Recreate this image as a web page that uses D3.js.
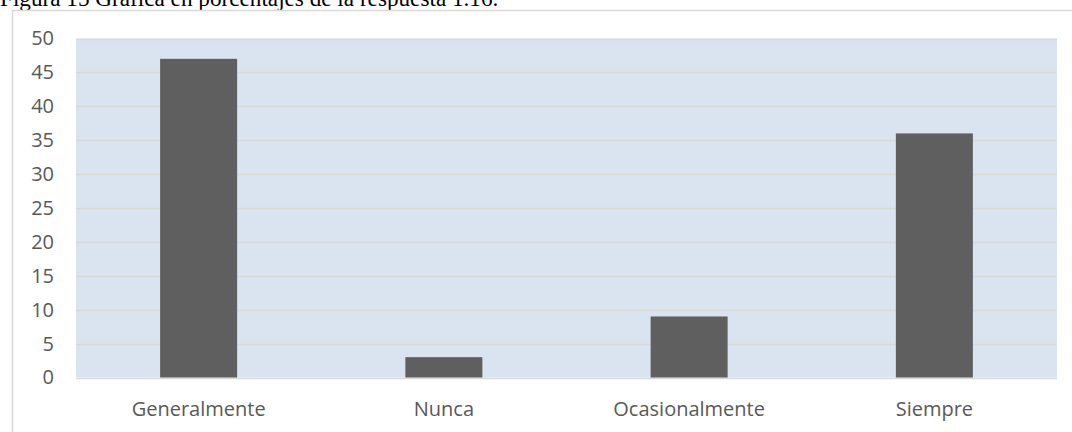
<!DOCTYPE html>
<html><head><meta charset="utf-8">
<script src="https://cdn.jsdelivr.net/npm/d3@7"></script>
<style>body{margin:0;background:#fff;overflow:hidden}svg{display:block}</style>
</head><body>
<svg id="c" width="1072" height="432"></svg>
<script>
const categories = ["Generalmente", "Nunca", "Ocasionalmente", "Siempre"];
const values = [47, 3, 9, 36];
const yTicks = [0, 5, 10, 15, 20, 25, 30, 35, 40, 45, 50];
const title = "Figura 15 Gráfica en porcentajes de la respuesta 1.16.";

const svg = d3.select("#c");
const m = {left: 76, right: 1057, top: 38.5, bottom: 377.5};

// title (cut at top, as in the reference)
svg.append("text").attr("x", 0).attr("y", 5.5)
  .attr("font-family", "Liberation Serif, Times New Roman, serif")
  .attr("font-size", 23.2).attr("fill", "#000").text(title);

// chart border
svg.append("rect").attr("x", 12.5).attr("y", 10.5).attr("width", 1080).attr("height", 440)
  .attr("fill", "#fff").attr("stroke", "#d9d9d9").attr("stroke-width", 1.5);

const x = d3.scaleBand().domain(categories).range([m.left, m.right])
  .paddingInner(0.686).paddingOuter(0.343);
const y = d3.scaleLinear().domain([0, 50]).range([m.bottom, m.top]);

// plot background
svg.append("rect").attr("x", m.left).attr("y", m.top)
  .attr("width", m.right - m.left).attr("height", m.bottom - m.top).attr("fill", "#dae3f0");

// gridlines
svg.append("g").selectAll("line").data(yTicks).join("line")
  .attr("x1", m.left).attr("x2", m.right)
  .attr("y1", d => Math.round(y(d)) + 0.5).attr("y2", d => Math.round(y(d)) + 0.5)
  .attr("stroke", "#d9d9d9").attr("stroke-width", 1.5);

// bars
svg.append("g").selectAll("rect").data(values).join("rect")
  .attr("x", (d, i) => x(categories[i])).attr("width", x.bandwidth())
  .attr("y", d => y(d)).attr("height", d => y(0) - y(d))
  .attr("fill", "#5f5f5f");

// y axis labels
const yAxis = d3.axisLeft(y).tickValues(yTicks).tickSize(0).tickPadding(22);
const gy = svg.append("g").attr("transform", `translate(${m.left},0)`).call(yAxis);
gy.select(".domain").remove();
gy.selectAll("text").attr("font-family", "Open Sans, sans-serif").attr("font-size", 20)
  .attr("fill", "#595959");

// x axis labels
const xAxis = d3.axisBottom(x).tickSize(0).tickPadding(0);
const gx = svg.append("g").attr("transform", `translate(0,${m.bottom})`).call(xAxis);
gx.select(".domain").remove();
gx.selectAll("text").attr("font-family", "Open Sans, sans-serif").attr("font-size", 20)
  .attr("fill", "#595959").attr("dy", null).attr("y", 38);
</script>
</body></html>
